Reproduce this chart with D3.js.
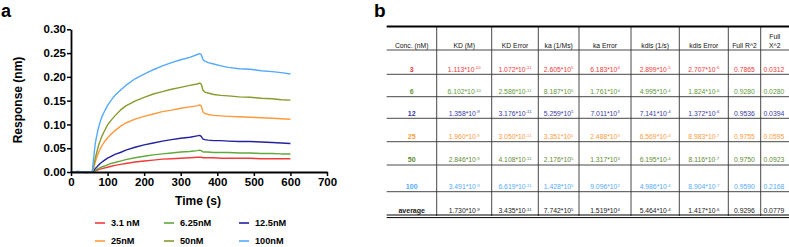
<!DOCTYPE html>
<html>
<head>
<meta charset="utf-8">
<script src="https://cdn.jsdelivr.net/npm/d3@7"></script>
<style>
  body { margin: 0; background: #fff; }
  svg { display: block; }
</style>
</head>
<body>
<div id="chart"></div>
<script>
// ---- panel a data ----
const times = [0, 20, 40, 58, 62, 66, 70, 75, 80, 85, 90, 100, 110, 120, 135, 150, 175, 200, 225, 250, 275, 300, 325, 345, 352, 356, 361, 366, 375, 390, 410, 430, 460, 490, 520, 550, 575, 600];
const resp3_1  = [0.000, 0.000, 0.000, 0.000, 0.001, 0.002, 0.003, 0.005, 0.006, 0.007, 0.008, 0.010, 0.012, 0.014, 0.016, 0.018, 0.021, 0.023, 0.025, 0.027, 0.028, 0.029, 0.030, 0.031, 0.031, 0.031, 0.030, 0.030, 0.030, 0.030, 0.029, 0.029, 0.029, 0.029, 0.028, 0.028, 0.028, 0.028];
const resp6_25 = [0.000, 0.000, 0.000, 0.000, 0.001, 0.003, 0.005, 0.007, 0.009, 0.011, 0.012, 0.015, 0.018, 0.020, 0.023, 0.026, 0.030, 0.033, 0.036, 0.038, 0.040, 0.042, 0.043, 0.045, 0.046, 0.045, 0.042, 0.042, 0.042, 0.041, 0.041, 0.041, 0.040, 0.040, 0.039, 0.039, 0.038, 0.038];
const resp12_5 = [0.000, 0.001, -0.001, 0.000, 0.003, 0.007, 0.010, 0.014, 0.018, 0.021, 0.024, 0.029, 0.033, 0.037, 0.041, 0.046, 0.052, 0.057, 0.061, 0.065, 0.068, 0.071, 0.073, 0.076, 0.077, 0.075, 0.069, 0.068, 0.067, 0.066, 0.066, 0.065, 0.064, 0.064, 0.063, 0.062, 0.061, 0.060];
const resp25   = [0.000, 0.000, 0.000, 0.000, 0.008, 0.020, 0.030, 0.040, 0.049, 0.056, 0.062, 0.072, 0.080, 0.087, 0.096, 0.103, 0.111, 0.117, 0.122, 0.127, 0.130, 0.134, 0.137, 0.139, 0.141, 0.139, 0.126, 0.123, 0.121, 0.119, 0.118, 0.117, 0.116, 0.115, 0.114, 0.113, 0.112, 0.111];
const resp50   = [0.000, 0.000, 0.000, 0.000, 0.012, 0.028, 0.040, 0.055, 0.066, 0.076, 0.084, 0.099, 0.109, 0.118, 0.130, 0.139, 0.149, 0.157, 0.164, 0.169, 0.174, 0.178, 0.182, 0.185, 0.187, 0.185, 0.172, 0.168, 0.166, 0.163, 0.161, 0.160, 0.158, 0.157, 0.155, 0.154, 0.152, 0.151];
const resp100  = [0.000, 0.000, 0.000, 0.000, 0.030, 0.058, 0.075, 0.093, 0.106, 0.117, 0.125, 0.140, 0.151, 0.161, 0.172, 0.182, 0.196, 0.206, 0.215, 0.223, 0.230, 0.236, 0.241, 0.247, 0.249, 0.247, 0.236, 0.233, 0.230, 0.227, 0.223, 0.220, 0.217, 0.216, 0.213, 0.211, 0.209, 0.206];

const seriesNames  = ['3.1 nM', '6.25nM', '12.5nM', '25nM', '50nM', '100nM'];
const seriesValues = [resp3_1, resp6_25, resp12_5, resp25, resp50, resp100];
const seriesColors = ['#f23a3a', '#62a83c', '#23239e', '#ff9a3c', '#8a9a2e', '#55aaff'];

const xTicks = [0, 100, 200, 300, 400, 500, 600, 700];
const yTicks = [0, 0.05, 0.10, 0.15, 0.20, 0.25, 0.30];

// ---- panel b data (kinetic fit table) ----
const headers = ['Conc. (nM)', 'KD (M)', 'KD Error', 'ka (1/Ms)', 'ka Error', 'kdis (1/s)', 'kdis Error', 'Full R^2', 'Full X^2'];
const concLabels = ['3', '6', '12', '25', '50', '100', 'average'];
const rowColors = ['#f23a3a', '#5f9a3a', '#3a3aa8', '#ff9a3c', '#5f8a34', '#55aaff', '#222'];
const kd      = [['1.113', '-10'], ['6.102', '-10'], ['1.358', '-9'], ['1.960', '-9'], ['2.846', '-9'], ['3.491', '-9'], ['1.730', '-9']];
const kdErr   = [['1.072', '-11'], ['2.586', '-11'], ['3.176', '-11'], ['3.050', '-11'], ['4.108', '-11'], ['6.619', '-11'], ['3.435', '-11']];
const ka      = [['2.605', '5'], ['8.187', '5'], ['5.259', '5'], ['3.351', '5'], ['2.176', '5'], ['1.428', '5'], ['7.742', '5']];
const kaErr   = [['6.183', '4'], ['1.761', '4'], ['7.011', '3'], ['2.488', '3'], ['1.317', '3'], ['9.096', '2'], ['1.519', '4']];
const kdis    = [['2.899', '-5'], ['4.995', '-4'], ['7.141', '-4'], ['6.569', '-4'], ['6.195', '-4'], ['4.986', '-4'], ['5.464', '-4']];
const kdisErr = [['2.707', '-6'], ['1.824', '-6'], ['1.372', '-6'], ['8.983', '-7'], ['8.116', '-7'], ['8.904', '-7'], ['1.417', '-6']];
const fullR2  = ['0.7865', '0.9280', '0.9536', '0.9755', '0.9750', '0.9590', '0.9296'];
const fullX2  = ['0.0312', '0.0280', '0.0394', '0.0595', '0.0923', '0.2168', '0.0779'];

const W = 789, H = 247;
const svg = d3.select('#chart').append('svg')
    .attr('width', W)
    .attr('height', H)
    .style('font-family', '"Liberation Sans", Arial, sans-serif');

// ================= panel a =================
svg.append('text').attr('x', 1).attr('y', 16.5)
    .attr('font-size', 18).attr('font-weight', 'bold').text('a');

const x = d3.scaleLinear().domain([0, 700]).range([71, 327]);
const y = d3.scaleLinear().domain([0, 0.3]).range([172, 29.3]);

const line = d3.line()
    .x((d, i) => x(times[i]))
    .y(d => y(d));

// lines, drawn under the axes
svg.append('g')
    .selectAll('path')
    .data(seriesValues)
    .enter().append('path')
    .attr('d', d => line(d))
    .attr('fill', 'none')
    .attr('stroke', (d, i) => seriesColors[i])
    .attr('stroke-width', 1.4)
    .attr('stroke-linejoin', 'round');

const xAxis = svg.append('g')
    .attr('transform', 'translate(0,' + y(0) + ')')
    .call(d3.axisBottom(x).tickValues(xTicks).tickSize(4).tickSizeOuter(0).tickPadding(2));

const yAxis = svg.append('g')
    .attr('transform', 'translate(' + x(0) + ',0)')
    .call(d3.axisLeft(y).tickValues(yTicks).tickFormat(d3.format('.2f')).tickSize(4).tickSizeOuter(0).tickPadding(1));

[xAxis, yAxis].forEach(g => {
    g.select('.domain').attr('stroke', '#000').attr('stroke-width', 1.8);
    g.selectAll('.tick line').attr('stroke', '#000').attr('stroke-width', 1.5);
    g.selectAll('.tick text')
        .attr('font-family', '"Liberation Sans", Arial, sans-serif')
        .attr('font-size', 11.5).attr('font-weight', 'bold').attr('fill', '#000');
});

svg.append('text')
    .attr('transform', 'translate(22,100) rotate(-90)')
    .attr('text-anchor', 'middle')
    .attr('font-size', 12).attr('font-weight', 'bold')
    .text('Response (nm)');

svg.append('text')
    .attr('x', 198).attr('y', 205)
    .attr('text-anchor', 'middle')
    .attr('font-size', 12).attr('font-weight', 'bold')
    .text('Time (s)');

// legend: 3 columns x 2 rows
const legX = [95, 164, 239];
const legY = [223, 241];
const legend = svg.append('g')
    .selectAll('g')
    .data(seriesNames)
    .enter().append('g')
    .attr('transform', (d, i) => 'translate(' + legX[i % 3] + ',' + legY[Math.floor(i / 3)] + ')');
legend.append('line')
    .attr('x1', 0).attr('x2', 10)
    .attr('stroke', (d, i) => seriesColors[i])
    .attr('stroke-width', 1.6);
legend.append('text')
    .attr('x', 16).attr('y', 3.3)
    .attr('font-size', 9.2).attr('font-weight', 'bold')
    .text(d => d);

// ================= panel b =================
svg.append('text').attr('x', 374).attr('y', 17)
    .attr('font-size', 19).attr('font-weight', 'bold').text('b');

const colEdges = [386.7, 436.7, 491.7, 538.3, 579, 631, 679.3, 728.3, 760.7, 789];
const rowLines = [50, 74.3, 96.7, 118.3, 141.7, 165, 191.7, 216];
const tTop = 26.5;
const tFont = '"Liberation Sans Narrow", "Liberation Sans", Arial, sans-serif';
const table = svg.append('g').style('font-family', tFont);

// verticals
table.selectAll('line.v')
    .data(colEdges.slice(1, -1))
    .enter().append('line')
    .attr('x1', d => d).attr('x2', d => d)
    .attr('y1', tTop).attr('y2', 216)
    .attr('stroke', '#333').attr('stroke-width', 0.9);

// horizontals
table.selectAll('line.h')
    .data(rowLines.slice(0, -1))
    .enter().append('line')
    .attr('x1', colEdges[0]).attr('x2', W)
    .attr('y1', d => d).attr('y2', d => d)
    .attr('stroke', '#333').attr('stroke-width', 0.9);

table.append('line')
    .attr('x1', colEdges[0]).attr('x2', W).attr('y1', tTop).attr('y2', tTop)
    .attr('stroke', '#000').attr('stroke-width', 2);
[215, 217.6].forEach(yy => table.append('line')
    .attr('x1', colEdges[0]).attr('x2', W).attr('y1', yy).attr('y2', yy)
    .attr('stroke', '#000').attr('stroke-width', 1));

const colCenter = i => (colEdges[i] + colEdges[i + 1]) / 2;

// header
headers.forEach((h, i) => {
    const t = table.append('text')
        .attr('x', colCenter(i)).attr('y', 48)
        .attr('text-anchor', 'middle')
        .attr('font-size', 6.8).attr('fill', '#111');
    if (h === 'Full X^2') {
        t.attr('y', 39).text('Full');
        table.append('text').attr('x', colCenter(i)).attr('y', 48)
            .attr('text-anchor', 'middle').attr('font-size', 6.8).attr('fill', '#111')
            .text('X^2');
    } else {
        t.text(h);
    }
});

const sciCols = [kd, kdErr, ka, kaErr, kdis, kdisErr];
concLabels.forEach((c, r) => {
    const base = rowLines[r + 1] - 2.6;
    const color = rowColors[r];
    table.append('text')
        .attr('x', colCenter(0)).attr('y', base)
        .attr('text-anchor', 'middle')
        .attr('font-size', 7).attr('font-weight', 'bold')
        .attr('fill', color).text(c);
    sciCols.forEach((col, k) => {
        const t = table.append('text')
            .attr('x', colCenter(k + 1)).attr('y', base)
            .attr('text-anchor', 'middle')
            .attr('font-size', 6.8).attr('fill', color);
        t.append('tspan').text(col[r][0] + '*10');
        t.append('tspan').attr('dy', -2.3).attr('font-size', 4.3).text(col[r][1]);
    });
    table.append('text')
        .attr('x', colCenter(7)).attr('y', base)
        .attr('text-anchor', 'middle')
        .attr('font-size', 6.8).attr('fill', color).text(fullR2[r]);
    table.append('text')
        .attr('x', colCenter(8) - 1).attr('y', base)
        .attr('text-anchor', 'middle')
        .attr('font-size', 6.8).attr('fill', color).text(fullX2[r]);
});
</script>
</body>
</html>
